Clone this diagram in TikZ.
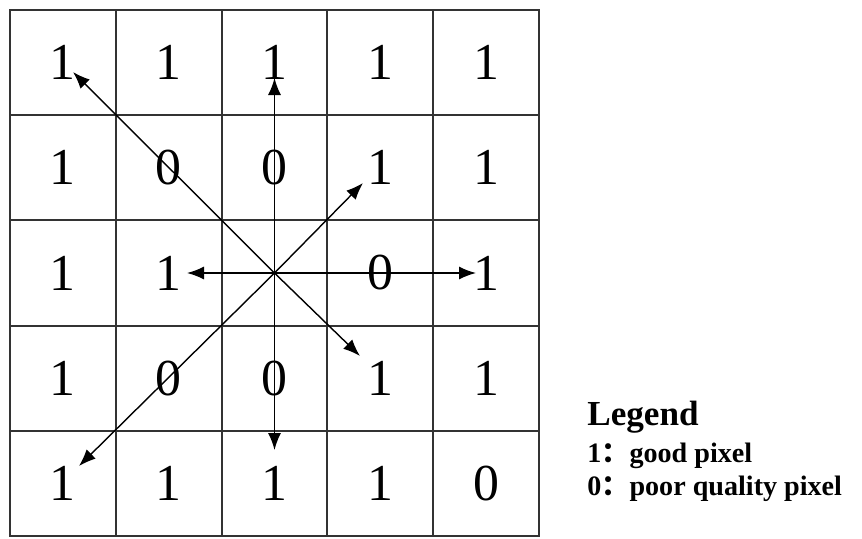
\documentclass[tikz,border=0pt]{standalone}
\usepackage{fontspec}
\setmainfont{Liberation Serif}
\newfontfamily\cjk{Noto Sans CJK SC}
\usetikzlibrary{positioning,arrows.meta,calc}

\begin{document}
\begin{tikzpicture}[
        node distance=0cm and 0cm,
        cell/.style={draw=black!80, line width=1.2pt, minimum width=2.116cm, minimum height=2.104cm, inner sep=0pt, outer sep=0pt, font=\fontsize{29.5}{30}\selectfont},
        arr/.style={-{Latex[length=3.4mm,width=2.6mm]}, line width=0.8pt},
        legtitle/.style={anchor=base west, inner sep=0pt, font=\bfseries\fontsize{20}{22}\selectfont},
        legitem/.style={anchor=base west, inner sep=0pt, font=\bfseries\fontsize{16}{18}\selectfont}
      ]

      \useasboundingbox (0,0) rectangle (17.24,-10.76);

      % Row 1
      \node[cell] at (1.258,-1.252) (c11) {1};
      \node[cell,right=of c11] (c12) {1};
      \node[cell,right=of c12] (c13) {1};
      \node[cell,right=of c13] (c14) {1};
      \node[cell,right=of c14] (c15) {1};

      % Row 2
      \node[cell,below=of c11] (c21) {1};
      \node[cell,right=of c21] (c22) {0};
      \node[cell,right=of c22] (c23) {0};
      \node[cell,right=of c23] (c24) {1};
      \node[cell,right=of c24] (c25) {1};

      % Row 3 (centre pixel left empty)
      \node[cell,below=of c21] (c31) {1};
      \node[cell,right=of c31] (c32) {1};
      \node[cell,right=of c32] (c33) {};
      \node[cell,right=of c33] (c34) {0};
      \node[cell,right=of c34] (c35) {1};

      % Row 4
      \node[cell,below=of c31] (c41) {1};
      \node[cell,right=of c41] (c42) {0};
      \node[cell,right=of c42] (c43) {0};
      \node[cell,right=of c43] (c44) {1};
      \node[cell,right=of c44] (c45) {1};

      % Row 5
      \node[cell,below=of c41] (c51) {1};
      \node[cell,right=of c51] (c52) {1};
      \node[cell,right=of c52] (c53) {1};
      \node[cell,right=of c53] (c54) {1};
      \node[cell,right=of c54] (c55) {0};

      % Search directions
      \coordinate (tn)  at ($(c33.center)+(0,3.90)$);
      \coordinate (ts)  at ($(c33.center)+(0,-3.54)$);
      \coordinate (tw)  at ($(c33.center)+(-1.75,0)$);
      \coordinate (te)  at ($(c33.center)+(4.03,0)$);
      \coordinate (tnw) at ($(c33.center)+(-4.03,4.02)$);
      \coordinate (tne) at ($(c33.center)+(1.77,1.80)$);
      \coordinate (tse) at ($(c33.center)+(1.71,-1.66)$);
      \coordinate (tsw) at ($(c33.center)+(-3.91,-3.86)$);
      \draw[arr] (c33.center)--(tn);
      \draw[arr] (c33.center)--(ts);
      \draw[arr] (c33.center)--(tw);
      \draw[arr] (c33.center)--(te);
      \draw[arr] (c33.center)--(tnw);
      \draw[arr] (c33.center)--(tne);
      \draw[arr] (c33.center)--(tse);
      \draw[arr] (c33.center)--(tsw);

      % Legend
      \node[legtitle] at (11.74,-8.50) (legend) {Legend};
      \node[legitem] at (11.74,-9.24) (leg1) {1{\cjk ：}good pixel};
      \node[legitem] at (11.74,-9.90) (leg0) {0{\cjk ：}poor quality pixel};

\end{tikzpicture}
\end{document}
